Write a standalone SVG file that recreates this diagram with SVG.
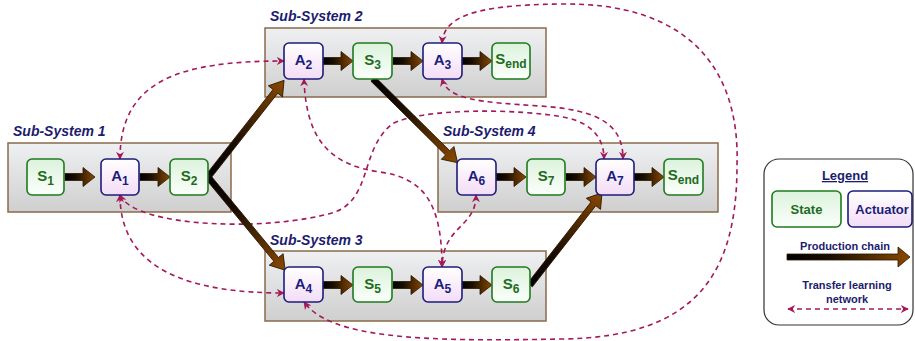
<svg xmlns="http://www.w3.org/2000/svg" width="915" height="341" viewBox="0 0 915 341">
<style>
.panel{fill:url(#gPanel);stroke:#8a6a4a;stroke-width:1.5}
.sslabel{font-family:"Liberation Sans",Arial,sans-serif;font-size:14px;font-weight:bold;font-style:italic;fill:#1c1c6e}
.state rect{fill:url(#gState);stroke:#1e7b1e;stroke-width:1.6}
.act rect{fill:url(#gAct);stroke:#1c1c7a;stroke-width:1.6}
.state text{fill:#1e6b1e}
.act text{fill:#1c1c7a}
.nt{font-family:"Liberation Sans",Arial,sans-serif;font-size:15px;font-weight:bold;text-anchor:middle}
.sub{font-size:12px}
.tl{fill:none;stroke:#a3195b;stroke-width:1.6;stroke-dasharray:5 4;marker-start:url(#dh);marker-end:url(#dh)}
.pc{fill:url(#gProd);stroke:#2a1600;stroke-width:0.8}
.lg{font-family:"Liberation Sans",Arial,sans-serif;font-weight:bold;fill:#1c1c6e;text-anchor:middle}
</style>
<defs>
<linearGradient id="gPanel" x1="0" y1="0" x2="0" y2="1"><stop offset="0" stop-color="#eff0f2"/><stop offset="1" stop-color="#cfcfcf"/></linearGradient>
<linearGradient id="gState" x1="0" y1="0" x2="0" y2="1"><stop offset="0" stop-color="#dcf2dc"/><stop offset="1" stop-color="#fbfffb"/></linearGradient>
<linearGradient id="gAct" x1="0" y1="0" x2="0" y2="1"><stop offset="0" stop-color="#ffffff"/><stop offset="1" stop-color="#f3dcf6"/></linearGradient>
<linearGradient id="gProd" x1="0" y1="0" x2="1" y2="0"><stop offset="0" stop-color="#000000"/><stop offset="0.35" stop-color="#1a0e00"/><stop offset="1" stop-color="#8a4800"/></linearGradient>
<marker id="dh" viewBox="0 0 10 10" refX="9" refY="5" markerWidth="8" markerHeight="8" markerUnits="userSpaceOnUse" orient="auto-start-reverse"><path d="M0,0 L10,5 L0,10 L3,5 Z" fill="#a3195b"/></marker>
<path id="ha" d="M0,-3.5 H18 V-9.5 L30,0 L18,9.5 V3.5 H0 Z"/>
</defs>

<g id="panels">
<g id="ss1"><rect class="panel" x="8" y="143" width="223" height="69"/><text class="sslabel" x="13" y="136">Sub-System 1</text></g>
<g id="ss2"><rect class="panel" x="265" y="28" width="281" height="69"/><text class="sslabel" x="270" y="21">Sub-System 2</text></g>
<g id="ss3"><rect class="panel" x="265" y="251" width="281" height="70"/><text class="sslabel" x="270" y="245">Sub-System 3</text></g>
<g id="ss4"><rect class="panel" x="438" y="143" width="280" height="69"/><text class="sslabel" x="443" y="136">Sub-System 4</text></g>
</g>

<g id="connectors">
<g id="transfer">
<path class="tl" d="M120,159 C120,80 180,61 284,61"/>
<path class="tl" d="M120,195 C120,270 190,293 284,293"/>
<path class="tl" d="M120,195 C135,228 270,232 335,212 C372,198 360,150 392,124 C420,108 520,108 568,118 C592,124 604,138 604,159"/>
<path class="tl" d="M304,79 C306,140 330,165 380,172 C425,178 442,205 442,267"/>
<path class="tl" d="M476,195 C476,228 443,225 442,267"/>
<path class="tl" d="M442,79 C448,100 480,102 540,106 C600,110 623,125 623,159"/>
<path class="tl" d="M442,43 C444,18 470,5 560,4 C690,2 740,70 737,165 C737,270 700,338 560,339 C420,342 330,338 304,302"/>
</g>
<g id="production">
<use href="#ha" class="pc" x="65" y="177"/>
<use href="#ha" class="pc" x="140" y="177"/>
<use href="#ha" class="pc" x="323" y="61"/>
<use href="#ha" class="pc" x="393" y="61"/>
<use href="#ha" class="pc" x="462" y="61"/>
<use href="#ha" class="pc" x="323" y="285"/>
<use href="#ha" class="pc" x="393" y="285"/>
<use href="#ha" class="pc" x="462" y="285"/>
<use href="#ha" class="pc" x="496" y="177"/>
<use href="#ha" class="pc" x="566" y="177"/>
<use href="#ha" class="pc" x="634" y="177"/>
<path class="pc" d="M0,-3 H109 V-9 L123,0 L109,9 V3 H0 Z" transform="translate(208,177) rotate(-51.8)"/>
<path class="pc" d="M0,-3 H107 V-9 L121,0 L107,9 V3 H0 Z" transform="translate(208,177) rotate(50.4)"/>
<path class="pc" d="M0,-3 H105 V-9 L119,0 L105,9 V3 H0 Z" transform="translate(373,79) rotate(44.7)"/>
<path class="pc" d="M0,-3 H103 V-9 L117,0 L103,9 V3 H0 Z" transform="translate(530,285) rotate(-52)"/>
</g>
</g>

<g id="S1" class="state"><rect x="27" y="159" width="37" height="36" rx="5"/><text class="nt" x="45.5" y="181">S<tspan class="sub" dy="4">1</tspan></text></g>
<g id="A1" class="act"><rect x="101" y="159" width="38" height="36" rx="5"/><text class="nt" x="120" y="181">A<tspan class="sub" dy="4">1</tspan></text></g>
<g id="S2" class="state"><rect x="170" y="159" width="38" height="36" rx="5"/><text class="nt" x="189" y="181">S<tspan class="sub" dy="4">2</tspan></text></g>

<g id="A2" class="act"><rect x="284" y="43" width="39" height="36" rx="5"/><text class="nt" x="303.5" y="65">A<tspan class="sub" dy="4">2</tspan></text></g>
<g id="S3" class="state"><rect x="353" y="43" width="39" height="36" rx="5"/><text class="nt" x="372.5" y="65">S<tspan class="sub" dy="4">3</tspan></text></g>
<g id="A3" class="act"><rect x="423" y="43" width="39" height="36" rx="5"/><text class="nt" x="442.5" y="65">A<tspan class="sub" dy="4">3</tspan></text></g>
<g id="Send2" class="state"><rect x="492" y="43" width="38" height="36" rx="5"/><text class="nt" x="511" y="64">S<tspan class="sub" dy="4">end</tspan></text></g>

<g id="A4" class="act"><rect x="284" y="267" width="39" height="35" rx="5"/><text class="nt" x="303.5" y="289">A<tspan class="sub" dy="4">4</tspan></text></g>
<g id="S5" class="state"><rect x="353" y="267" width="39" height="35" rx="5"/><text class="nt" x="372.5" y="289">S<tspan class="sub" dy="4">5</tspan></text></g>
<g id="A5" class="act"><rect x="423" y="267" width="39" height="35" rx="5"/><text class="nt" x="442.5" y="289">A<tspan class="sub" dy="4">5</tspan></text></g>
<g id="S6" class="state"><rect x="492" y="267" width="38" height="35" rx="5"/><text class="nt" x="511" y="289">S<tspan class="sub" dy="4">6</tspan></text></g>

<g id="A6" class="act"><rect x="457" y="159" width="39" height="36" rx="5"/><text class="nt" x="476.5" y="181">A<tspan class="sub" dy="4">6</tspan></text></g>
<g id="S7" class="state"><rect x="527" y="159" width="38" height="36" rx="5"/><text class="nt" x="546" y="181">S<tspan class="sub" dy="4">7</tspan></text></g>
<g id="A7" class="act"><rect x="596" y="159" width="38" height="36" rx="5"/><text class="nt" x="615" y="181">A<tspan class="sub" dy="4">7</tspan></text></g>
<g id="Send4" class="state"><rect x="664" y="159" width="39" height="36" rx="5"/><text class="nt" x="683.5" y="180">S<tspan class="sub" dy="4">end</tspan></text></g>

<g id="legend">
<rect x="764" y="159" width="149" height="166" rx="15" fill="#ffffff" stroke="#333333" stroke-width="1.2"/>
<text class="lg" x="845" y="180" font-size="13" text-decoration="underline">Legend</text>
<g class="state"><rect x="772" y="191" width="69" height="36" rx="5"/><text x="806.5" y="214" font-family="Liberation Sans, Arial, sans-serif" font-size="13" font-weight="bold" text-anchor="middle">State</text></g>
<g class="act"><rect x="848" y="191" width="64" height="36" rx="5"/><text x="882" y="214" font-family="Liberation Sans, Arial, sans-serif" font-size="13" font-weight="bold" text-anchor="middle">Actuator</text></g>
<text class="lg" x="845" y="250" font-size="11">Production chain</text>
<path class="pc" d="M0,-3 H111 V-10 L123,0 L111,10 V3 H0 Z" transform="translate(787,257)"/>
<text class="lg" x="847" y="289" font-size="11">Transfer learning</text>
<text class="lg" x="847" y="303" font-size="11">network</text>
<path class="tl" d="M788,309 H908"/>
</g>
</svg>
